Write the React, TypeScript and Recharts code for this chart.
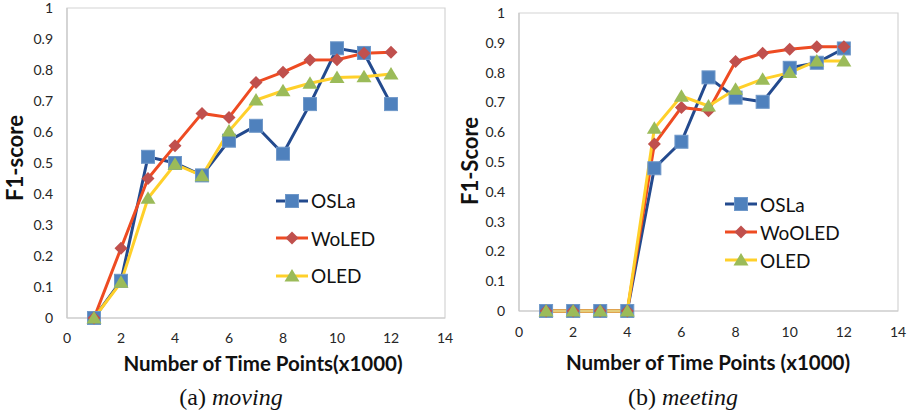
import React from 'react';
import { LineChart, Line, XAxis, YAxis, ReferenceArea, Legend } from 'recharts';

const timePoints = [1, 2, 3, 4, 5, 6, 7, 8, 9, 10, 11, 12];
const movingOSLa = [0, 0.12, 0.52, 0.5, 0.46, 0.572, 0.62, 0.53, 0.69, 0.87, 0.855, 0.69];
const movingWoLED = [0, 0.225, 0.45, 0.556, 0.66, 0.647, 0.76, 0.793, 0.832, 0.833, 0.854, 0.857];
const movingOLED = [0, 0.115, 0.386, 0.496, 0.459, 0.603, 0.703, 0.733, 0.757, 0.776, 0.778, 0.787];
const meetingOSLa = [0, 0, 0, 0, 0.479, 0.568, 0.784, 0.716, 0.702, 0.816, 0.833, 0.881];
const meetingWoOLED = [0, 0, 0, 0, 0.56, 0.683, 0.672, 0.837, 0.865, 0.878, 0.887, 0.887];
const meetingOLED = [0, 0, 0, 0, 0.613, 0.721, 0.688, 0.744, 0.778, 0.8, 0.839, 0.839];
const xTicks = [0, 2, 4, 6, 8, 10, 12, 14];
const yTicks = [0, 0.1, 0.2, 0.3, 0.4, 0.5, 0.6, 0.7, 0.8, 0.9, 1];
const movingNames = ['OSLa', 'WoLED', 'OLED'];
const meetingNames = ['OSLa', 'WoOLED', 'OLED'];

const movingData = timePoints.map((t, i) => ({ t, s0: movingOSLa[i], s1: movingWoLED[i], s2: movingOLED[i] }));
const meetingData = timePoints.map((t, i) => ({ t, s0: meetingOSLa[i], s1: meetingWoOLED[i], s2: meetingOLED[i] }));

const LINE_COLORS = ['#234A8E', '#EE4B22', '#FFD02A'];
const MARK_COLORS = ['#4F81BD', '#C0504D', '#9BBB59'];
const SANS = 'Lato, "Open Sans", sans-serif';

function Marker({ kind, cx, cy }: { kind: number; cx: number; cy: number }) {
  if (kind === 0) {
    return <rect x={cx - 6.5} y={cy - 6.5} width={13} height={13} fill={MARK_COLORS[0]} stroke="#6F98C9" strokeWidth={1} />;
  }
  if (kind === 1) {
    const r = 6.5;
    return <polygon points={`${cx},${cy - r} ${cx + r},${cy} ${cx},${cy + r} ${cx - r},${cy}`} fill={MARK_COLORS[1]} />;
  }
  return <polygon points={`${cx},${cy - 7} ${cx + 7.5},${cy + 5.5} ${cx - 7.5},${cy + 5.5}`} fill={MARK_COLORS[2]} />;
}

const makeDot = (kind: number) => (props: any) => (
  <Marker key={`d${kind}-${props.index}`} kind={kind} cx={props.cx} cy={props.cy} />
);

function LegendBox({ names, rowH }: { names: string[]; rowH: number }) {
  return (
    <div style={{ fontFamily: SANS, fontSize: 19, color: '#111' }}>
      {names.map((n, i) => (
        <div key={n} style={{ display: 'flex', alignItems: 'center', height: rowH }}>
          <svg width={34} height={20} style={{ display: 'block' }}>
            <line x1={1} y1={10} x2={33} y2={10} stroke={LINE_COLORS[i]} strokeWidth={3} />
            <Marker kind={i} cx={17} cy={10} />
          </svg>
          <span style={{ marginLeft: 2, lineHeight: 1 }}>{n}</span>
        </div>
      ))}
    </div>
  );
}

function Panel({ data, names, width, height, margin, yWidth, tickMargin, legendPos, rowH }: any) {
  return (
    <LineChart width={width} height={height} data={data} margin={margin}>
      <XAxis
        dataKey="t"
        type="number"
        domain={[0, 14]}
        ticks={xTicks}
        interval={0}
        tickLine={false}
        tickSize={0}
        tickMargin={tickMargin}
        height={30}
        axisLine={{ stroke: '#C9C9C9', strokeWidth: 1.2 }}
        tick={{ fontFamily: SANS, fontSize: 14, fill: '#262626' }}
      />
      <YAxis
        type="number"
        domain={[0, 1]}
        ticks={yTicks}
        interval={0}
        tickLine={false}
        tickSize={0}
        tickMargin={14}
        width={yWidth}
        axisLine={{ stroke: '#C9C9C9', strokeWidth: 1.2 }}
        tick={{ fontFamily: SANS, fontSize: 14, fill: '#262626' }}
      />
      <ReferenceArea x1={0} x2={14} y1={0} y2={1} fill="none" stroke="#D4D4D4" strokeWidth={1.2} />
      {[0, 1, 2].map((k) => (
        <Line
          key={k}
          type="linear"
          dataKey={`s${k}`}
          name={names[k]}
          stroke={LINE_COLORS[k]}
          strokeWidth={3}
          dot={makeDot(k)}
          activeDot={false}
          isAnimationActive={false}
        />
      ))}
      <Legend
        layout="vertical"
        align="center"
        verticalAlign="middle"
        wrapperStyle={{ left: legendPos[0], top: legendPos[1], width: 140, height: rowH * 3 }}
        content={() => <LegendBox names={names} rowH={rowH} />}
      />
    </LineChart>
  );
}

const abs = (x: number, y: number, extra: any = {}) => ({
  position: 'absolute' as const,
  left: x,
  top: y,
  transform: 'translate(-50%, -50%)',
  whiteSpace: 'nowrap' as const,
  ...extra,
});

export default function App() {
  return (
    <div style={{ position: 'absolute', left: 0, top: 0, width: 914, height: 412, background: '#fff', overflow: 'hidden' }}>
      <div style={{ position: 'absolute', left: 0, top: 0 }}>
        <Panel
          data={movingData}
          names={movingNames}
          width={455}
          height={350}
          margin={{ top: 8, right: 10, bottom: 2, left: 0 }}
          yWidth={67}
          tickMargin={15}
          legendPos={[275, 182]}
          rowH={37.5}
        />
      </div>
      <div style={{ position: 'absolute', left: 455, top: 0 }}>
        <Panel
          data={meetingData}
          names={meetingNames}
          width={459}
          height={350}
          margin={{ top: 13, right: 16, bottom: 9, left: 0 }}
          yWidth={64}
          tickMargin={16}
          legendPos={[269, 190]}
          rowH={28}
        />
      </div>
      <div style={abs(14, 158, { transform: 'translate(-50%, -50%) rotate(-90deg)', fontFamily: SANS, fontWeight: 700, fontSize: 22, color: '#111' })}>F1-score</div>
      <div style={abs(469, 161, { transform: 'translate(-50%, -50%) rotate(-90deg)', fontFamily: SANS, fontWeight: 700, fontSize: 22, color: '#111' })}>F1-Score</div>
      <div style={abs(263, 363, { fontFamily: SANS, fontWeight: 700, fontSize: 20.5, color: '#111' })}>Number of Time Points(x1000)</div>
      <div style={abs(708, 362, { fontFamily: SANS, fontWeight: 700, fontSize: 20.5, color: '#111' })}>Number of Time Points (x1000)</div>
      <div style={abs(231, 397, { fontFamily: '"Liberation Serif", serif', fontSize: 24, color: '#111' })}>
        (a) <i>moving</i>
      </div>
      <div style={abs(683, 397, { fontFamily: '"Liberation Serif", serif', fontSize: 24, color: '#111' })}>
        (b) <i>meeting</i>
      </div>
    </div>
  );
}
